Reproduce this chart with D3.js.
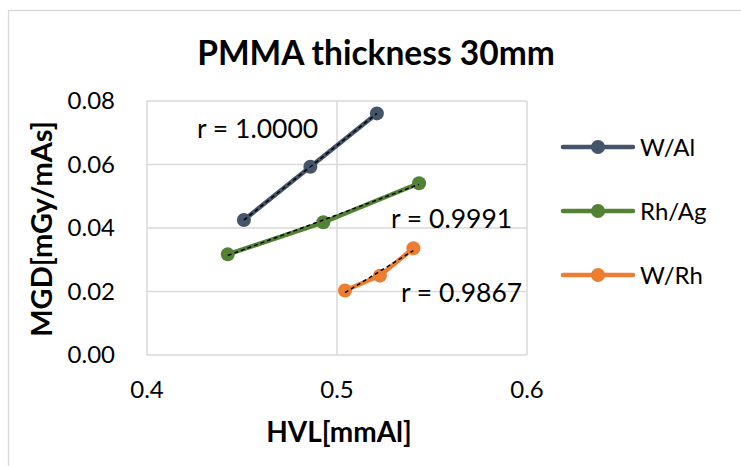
<!DOCTYPE html>
<meta charset="utf-8">
<head>
  <script src="https://cdn.jsdelivr.net/npm/d3@7"></script>
</head>
<style>
  body { margin: 0; background: #fff; }
  text { font-family: Lato, "Open Sans", sans-serif; fill: #000; }
</style>
<body></body>
<script>
  // data
  var seriesNames = ["W/Al", "Rh/Ag", "W/Rh"];
  var colors = ["#44546A", "#548235", "#ED7D31"];
  var hvlWAl = [0.451, 0.486, 0.521];
  var mgdWAl = [0.0425, 0.0593, 0.0761];
  var hvlRhAg = [0.4425, 0.4928, 0.5432];
  var mgdRhAg = [0.0317, 0.0418, 0.0541];
  var hvlWRh = [0.5042, 0.5226, 0.5402];
  var mgdWRh = [0.0203, 0.0250, 0.0336];
  var rLabels = ["r = 1.0000", "r = 0.9991", "r = 0.9867"];
  var xTicks = [0.4, 0.5, 0.6];
  var yTicks = [0, 0.02, 0.04, 0.06, 0.08];

  var width = 741, height = 466;
  var svg = d3.select("body").append("svg")
      .attr("width", width)
      .attr("height", height);

  // chart border
  svg.append("rect")
      .attr("x", 8.5).attr("y", 10.5)
      .attr("width", 760).attr("height", 480)
      .attr("fill", "#fff").attr("stroke", "#d9d9d9").attr("stroke-width", 1.3);

  var x = d3.scaleLinear().domain([0.4, 0.6]).range([147, 527]);
  var y = d3.scaleLinear().domain([0, 0.08]).range([355, 101]);

  // gridlines
  svg.append("g").selectAll("line").data(xTicks).enter().append("line")
      .attr("x1", d => x(d)).attr("x2", d => x(d))
      .attr("y1", y(0)).attr("y2", y(0.08))
      .attr("stroke", "#d9d9d9").attr("stroke-width", 1.5);
  svg.append("g").selectAll("line").data(yTicks).enter().append("line")
      .attr("x1", x(0.4)).attr("x2", x(0.6))
      .attr("y1", d => y(d)).attr("y2", d => y(d))
      .attr("stroke", "#d9d9d9").attr("stroke-width", 1.5);

  // tick labels
  svg.append("g").selectAll("text").data(yTicks).enter().append("text")
      .attr("x", 115).attr("y", d => y(d) + 8)
      .attr("text-anchor", "end")
      .style("font-size", "24px")
      .text(d => d3.format(".2f")(d));
  svg.append("g").selectAll("text").data(xTicks).enter().append("text")
      .attr("x", d => x(d)).attr("y", 398)
      .attr("text-anchor", "middle")
      .style("font-size", "24px")
      .text(d => d3.format(".1f")(d));

  // titles
  svg.append("text").attr("x", 376).attr("y", 65)
      .attr("text-anchor", "middle")
      .style("font-size", "33.5px").style("font-weight", "bold")
      .text("PMMA thickness 30mm");
  svg.append("text").attr("x", 339).attr("y", 442)
      .attr("text-anchor", "middle")
      .style("font-size", "28px").style("font-weight", "bold")
      .text("HVL[mmAl]");
  svg.append("text")
      .attr("transform", "translate(52,229) rotate(-90)")
      .attr("text-anchor", "middle")
      .style("font-size", "29px").style("font-weight", "bold")
      .text("MGD[mGy/mAs]");

  var series = [
    { name: seriesNames[0], xs: hvlWAl, ys: mgdWAl },
    { name: seriesNames[1], xs: hvlRhAg, ys: mgdRhAg },
    { name: seriesNames[2], xs: hvlWRh, ys: mgdWRh }
  ];

  var line = d3.line().x(d => x(d[0])).y(d => y(d[1]));

  series.forEach(function(s, i) {
    var pts = s.xs.map((v, j) => [v, s.ys[j]]);
    svg.append("path").datum(pts)
        .attr("d", line)
        .attr("fill", "none")
        .attr("stroke", colors[i]).attr("stroke-width", 4.5)
        .attr("stroke-linecap", "round");
    svg.append("g").selectAll("circle").data(pts).enter().append("circle")
        .attr("cx", d => x(d[0])).attr("cy", d => y(d[1]))
        .attr("r", 7).attr("fill", colors[i]);
  });

  // linear trendlines
  series.forEach(function(s) {
    var mx = d3.mean(s.xs), my = d3.mean(s.ys);
    var sxy = d3.sum(s.xs, (v, j) => (v - mx) * (s.ys[j] - my));
    var sxx = d3.sum(s.xs, v => (v - mx) * (v - mx));
    var b = sxy / sxx, a = my - b * mx;
    var x0 = d3.min(s.xs), x1 = d3.max(s.xs);
    svg.append("path").datum([[x0, a + b * x0], [x1, a + b * x1]])
        .attr("d", line)
        .attr("fill", "none")
        .attr("stroke", "#000").attr("stroke-width", 1.5)
        .attr("stroke-dasharray", "4,3");
  });

  // r labels
  var rPos = [[197, 138], [391, 228], [401, 302]];
  svg.append("g").selectAll("text").data(rLabels).enter().append("text")
      .attr("x", (d, i) => rPos[i][0]).attr("y", (d, i) => rPos[i][1])
      .style("font-size", "26.5px")
      .text(d => d);

  // legend
  var lg = svg.append("g").selectAll("g").data(seriesNames).enter().append("g")
      .attr("transform", (d, i) => "translate(563," + (147 + i * 64) + ")");
  lg.append("line").attr("x1", 0).attr("x2", 70)
      .attr("stroke", (d, i) => colors[i]).attr("stroke-width", 4.5)
      .attr("stroke-linecap", "round");
  lg.append("circle").attr("cx", 35).attr("r", 7).attr("fill", (d, i) => colors[i]);
  lg.append("text").attr("x", 77).attr("y", 9)
      .style("font-size", "24px")
      .text(d => d);
</script>
